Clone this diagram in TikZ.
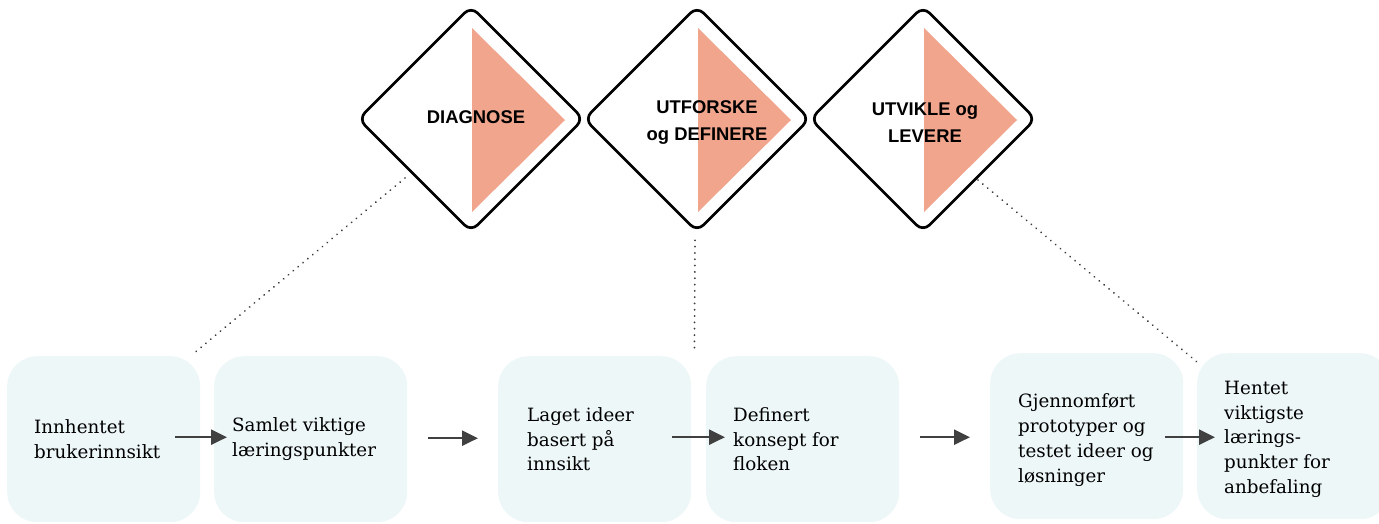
\documentclass[tikz,border=0pt]{standalone}
\usepackage{fontspec}
\setmainfont{DejaVu Serif}
\newfontfamily\headfont{Liberation Sans}
\usetikzlibrary{shapes.geometric,arrows.meta,calc}

\definecolor{boxfill}{HTML}{EEF7F8}
\definecolor{salmon}{HTML}{F1A58D}
\definecolor{arrowgray}{HTML}{404040}
\definecolor{dotgray}{HTML}{3A3A3A}

\tikzset{
  phase/.style={shape=diamond, draw=black, fill=white, line width=2.7pt,
    minimum width=226pt, minimum height=226pt, inner sep=0pt, rounded corners=9pt},
  phasetext/.style={font=\headfont\bfseries\fontsize{18.4}{27}\selectfont, align=center, inner sep=0pt},
  stepbox/.style={fill=boxfill, draw=none, rounded corners=30pt,
    minimum width=193pt, minimum height=166pt, inner sep=0pt, anchor=north west},
  steptext/.style={font=\fontsize{18.3}{24.8}\selectfont, align=left, inner sep=0pt, anchor=west},
  flow/.style={draw=arrowgray, line width=2.4pt, -{Triangle[length=16pt,width=15pt]}},
  link/.style={draw=dotgray, line width=2pt, line cap=round, dash pattern=on 0.01pt off 6.3pt}
}

\begin{document}
\begin{tikzpicture}[x=1pt, y=-1pt]
  \useasboundingbox (0,0) rectangle (1379,523);
  \clip (0,0) rectangle (1379,523);

  % three phase diamonds with their pointer triangles
  \foreach \n/\cx in {d1/471, d2/697, d3/923} {
    \node[phase] (\n) at (\cx,119) {};
    \fill[salmon] ($(\n)+(1,-91)$) -- ($(\n)+(1,93)$) -- ($(\n)+(94,1)$) -- cycle;
  }
  \node[phasetext] (h1) at ($(d1)+(5,-2)$) {DIAGNOSE};
  \node[phasetext] (h2) at ($(d2)+(10,4)$) {UTFORSKE\\og DEFINERE};
  \node[phasetext] (h3) at ($(d3)+(2,4)$) {UTVIKLE og\\LEVERE};

  % step boxes
  \node[stepbox] (b1) at (7,356) {};
  \node[stepbox] (b2) at (214,356) {};
  \node[stepbox] (b3) at (498,356) {};
  \node[stepbox] (b4) at (706,356) {};
  \node[stepbox] (b5) at (990,353) {};
  \node[stepbox] (b6) at (1197,353) {};

  \node[steptext] (t1) at ($(b1.west)+(27,0)$) {Innhentet\\brukerinnsikt};
  \node[steptext] (t2) at ($(b2.west)+(18,0)$) {Samlet viktige\\læringspunkter};
  \node[steptext] (t3) at ($(b3.west)+(29,0)$) {Laget ideer\\basert på\\innsikt};
  \node[steptext] (t4) at ($(b4.west)+(27,0)$) {Definert\\konsept for\\floken};
  \node[steptext] (t5) at ($(b5.west)+(28,4)$) {Gjennomført\\prototyper og\\testet ideer og\\løsninger};
  \node[steptext] (t6) at ($(b6.west)+(27,3)$) {Hentet\\viktigste\\lærings-\\punkter for\\anbefaling};

  % flow arrows
  \draw[flow] ($(b1.east)+(-25,-2)$) -- ($(b2.west)+(13,-2)$);
  \draw[flow] ($(b2.east)+(21,-1)$) -- ($(b3.west)+(-20,-1)$);
  \draw[flow] ($(b3.east)+(-19,-2)$) -- ($(b4.west)+(19,-2)$);
  \draw[flow] ($(b4.east)+(21,-2)$) -- ($(b5.west)+(-20,1)$);
  \draw[flow] ($(b5.east)+(-18,1)$) -- ($(b6.west)+(18,1)$);

  % dotted links from phases down to steps
  \draw[link] ($(d1)+(-66,59)$) -- ($(b1.north east)+(-5,-4)$);
  \draw[link] ($(d2.south)+(-2,7)$) -- ($(b3.north east)+(3,-4)$);
  \draw[link] ($(d3)+(55,61)$) -- ($(b6.north west)+(0,9)$);
\end{tikzpicture}
\end{document}
